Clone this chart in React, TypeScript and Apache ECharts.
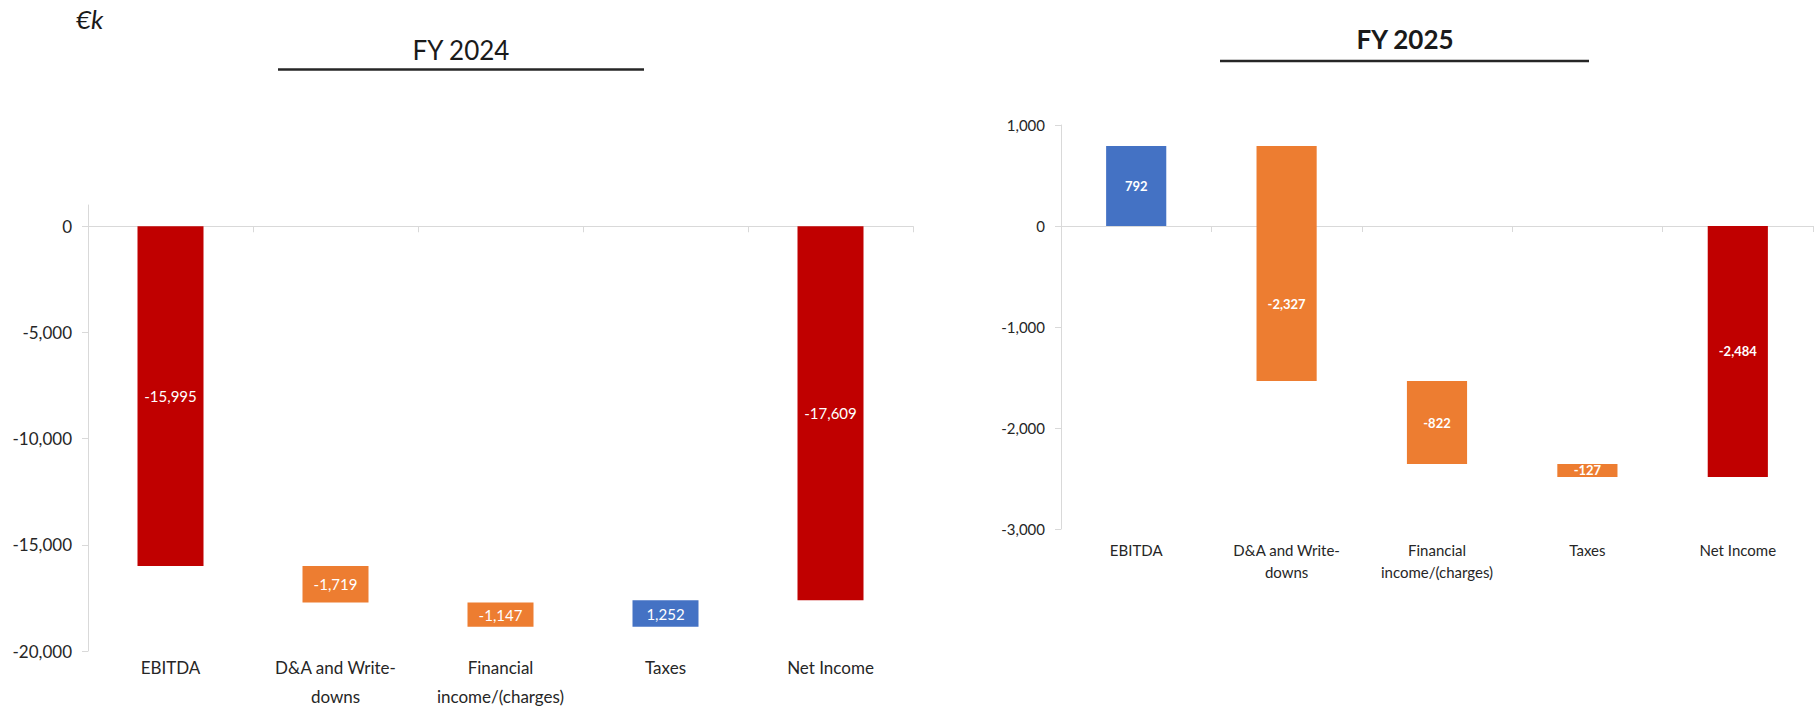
import React, { useEffect, useRef } from 'react';
import * as echarts from 'echarts';

const categories = ['EBITDA', 'D&A and Write-\ndowns', 'Financial\nincome/(charges)', 'Taxes', 'Net Income'];
const isTotal = [true, false, false, false, true];
const deltas2024 = [-15995, -1719, -1147, 1252, -17609];
const deltas2025 = [792, -2327, -822, -127, -2484];
const yTicks2024 = [-20000, -15000, -10000, -5000, 0];
const yTicks2025 = [-3000, -2000, -1000, 0, 1000];
const unitLabel = '€k';
const title2024 = 'FY 2024';
const title2025 = 'FY 2025';

const RED = '#C00000';
const ORANGE = '#ED7D31';
const BLUE = '#4472C4';
const FONT = 'Lato, "Noto Sans", sans-serif';

function waterfall(deltas: number[]) {
  let running = 0;
  const bases: number[] = [];
  const colors: string[] = [];
  const labelY: number[] = [];
  deltas.forEach((d, i) => {
    const start = isTotal[i] ? 0 : running;
    const end = start + d;
    bases.push(start);
    running = end;
    colors.push(d >= 0 ? BLUE : isTotal[i] ? RED : ORANGE);
    if (start * end < 0) {
      // bar crosses zero: label sits in the middle of the larger part (as in the Excel source)
      const part = Math.abs(start) > Math.abs(end) ? start : end;
      labelY.push(part / 2);
    } else {
      labelY.push((start + end) / 2);
    }
  });
  return { bases, colors, labelY };
}

const fmt = (v: number) => v.toLocaleString('en-US');

export default function App() {
  const ref = useRef<HTMLDivElement>(null);
  useEffect(() => {
    document.body.style.margin = '0';
    const chart = echarts.init(ref.current!, null, { renderer: 'svg' });
    const w24 = waterfall(deltas2024);
    const w25 = waterfall(deltas2025);

    const mkSeries = (deltas: number[], w: { bases: number[]; colors: string[]; labelY: number[] }, idx: number, bold: boolean, fs: number) => [
      {
        type: 'bar',
        xAxisIndex: idx * 2,
        yAxisIndex: idx,
        stack: 's' + idx,
        stackStrategy: 'all',
        barWidth: '40%',
        silent: true,
        itemStyle: { color: 'transparent' },
        data: w.bases,
      },
      {
        type: 'bar',
        xAxisIndex: idx * 2,
        yAxisIndex: idx,
        stack: 's' + idx,
        stackStrategy: 'all',
        barWidth: '40%',
        data: deltas.map((d, i) => ({ value: d, itemStyle: { color: w.colors[i] } })),
      },
      {
        type: 'scatter',
        xAxisIndex: idx * 2,
        yAxisIndex: idx,
        symbol: 'rect',
        symbolSize: 1,
        silent: true,
        z: 5,
        itemStyle: { color: 'rgba(0,0,0,0)', opacity: 1 },
        data: deltas.map((d, i) => [i, w.labelY[i], d]),
        label: {
          show: true,
          position: 'inside',
          color: '#ffffff',
          opacity: 1,
          textBorderWidth: 0,
          fontFamily: FONT,
          fontSize: fs,
          fontWeight: bold ? 'bold' : 'normal',
          formatter: (p: any) => fmt(p.value[2]),
        },
      },
    ];

    const lineAxis = (gi: number) => ({
      type: 'category',
      gridIndex: gi,
      data: categories,
      position: 'bottom',
      axisLine: { show: true, onZero: true, lineStyle: { color: '#D9D9D9', width: 1 } },
      axisTick: { show: true, length: 6, lineStyle: { color: '#D9D9D9' } },
      axisLabel: { show: false },
      splitLine: { show: false },
    });
    const labelAxis = (gi: number, fs: number, lh: number, margin: number) => ({
      type: 'category',
      gridIndex: gi,
      data: categories,
      position: 'bottom',
      axisLine: { show: false, onZero: false },
      axisTick: { show: false },
      axisLabel: { show: true, color: '#262626', fontFamily: FONT, fontSize: fs, lineHeight: lh, margin, interval: 0 },
    });
    const valueAxis = (gi: number, min: number, max: number, interval: number, ticks: number[], fs: number) => ({
      type: 'value',
      gridIndex: gi,
      min,
      max,
      interval,
      splitLine: { show: false },
      axisLine: { show: true, lineStyle: { color: '#D9D9D9' } },
      axisTick: { show: true, length: 6, customValues: ticks, lineStyle: { color: '#D9D9D9' } },
      axisLabel: {
        customValues: ticks,
        color: '#262626',
        fontFamily: FONT,
        fontSize: fs,
        margin: 16,
        formatter: (v: number) => fmt(v),
      },
    });

    chart.setOption({
      animation: false,
      grid: [
        { left: 88, right: 903, top: 205, bottom: 61, containLabel: false },
        { left: 1061, right: 3, top: 125, bottom: 183, containLabel: false },
      ],
      xAxis: [lineAxis(0), labelAxis(0, 17, 29, 2), lineAxis(1), labelAxis(1, 15, 22, 10)],
      yAxis: [
        valueAxis(0, -20000, 1000, 5000, yTicks2024, 17),
        valueAxis(1, -3000, 1000, 1000, yTicks2025, 15),
      ],
      series: [...mkSeries(deltas2024, w24, 0, false, 15), ...mkSeries(deltas2025, w25, 1, true, 13)],
      graphic: [
        { type: 'text', left: 76, top: 6, style: { text: unitLabel, fontFamily: FONT, fontStyle: 'italic', fontSize: 26, fill: '#1a1a1a' } },
        { type: 'text', x: 461, y: 50, style: { text: title2024, fontFamily: FONT, fontSize: 26, fill: '#1a1a1a', align: 'center', verticalAlign: 'middle' } },
        { type: 'line', shape: { x1: 278, y1: 69.5, x2: 644, y2: 69.5 }, style: { stroke: '#262626', lineWidth: 2.5 } },
        { type: 'text', x: 1405, y: 39, style: { text: title2025, fontFamily: FONT, fontWeight: 'bold', fontSize: 26, fill: '#1a1a1a', align: 'center', verticalAlign: 'middle' } },
        { type: 'line', shape: { x1: 1220, y1: 61, x2: 1589, y2: 61 }, style: { stroke: '#262626', lineWidth: 2.5 } },
      ],
    });
    return () => chart.dispose();
  }, []);
  return <div ref={ref} style={{ width: 1816, height: 712 }} />;
}
